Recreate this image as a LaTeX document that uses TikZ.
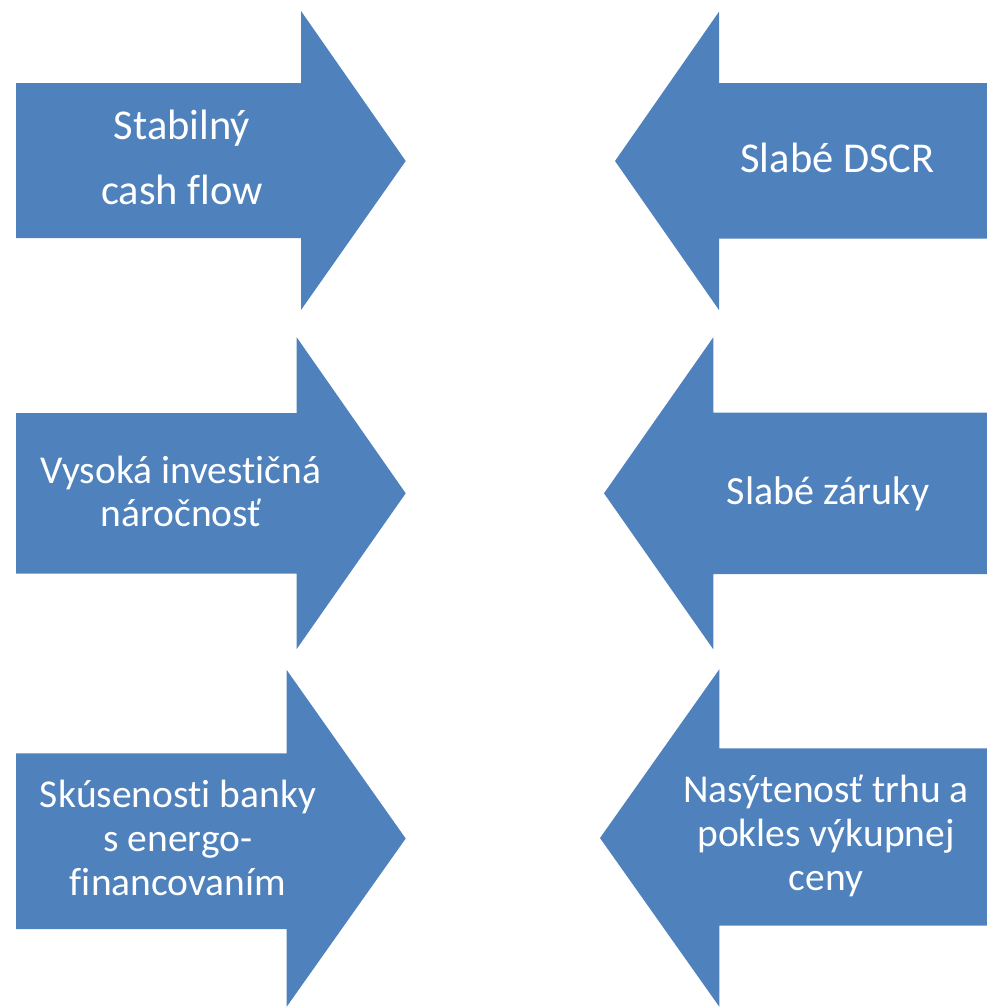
\documentclass[tikz,border=0pt]{standalone}
\usepackage{fontspec}
\setmainfont[Ligatures={NoCommon}]{Carlito}
\definecolor{arrowblue}{HTML}{4F81BD}
\begin{document}
\begin{tikzpicture}[x=1pt,y=-1pt,
  arrowshape/.style={fill=arrowblue,draw=none},
  label/.style={text=white,align=center,inner sep=0pt,anchor=base},
  bigtxt/.style={font=\fontsize{42.5}{65}\selectfont},
  midtxt/.style={font=\fontsize{42.5}{50}\selectfont},
  zartxt/.style={font=\fontsize{40}{50}\selectfont},
  smalltxt/.style={font=\fontsize{39.5}{43.6}\selectfont}]
\useasboundingbox (0,0) rectangle (987,1007);
% row 1
\fill[arrowshape] (16,83) -- (301,83) -- (301,11) -- (405.7,161) -- (301,310) -- (301,238) -- (16,238) -- cycle;
\fill[arrowshape] (987,83) -- (719,83) -- (719,11.7) -- (615,161) -- (719,310) -- (719,238.5) -- (987,238.5) -- cycle;
% row 2
\fill[arrowshape] (16,413) -- (296.7,413) -- (296.7,337.3) -- (405.7,493.3) -- (296.7,649) -- (296.7,573.7) -- (16,573.7) -- cycle;
\fill[arrowshape] (987,412.7) -- (713.3,412.7) -- (713.3,337.3) -- (604,493.3) -- (713.3,649.3) -- (713.3,574) -- (987,574) -- cycle;
% row 3
\fill[arrowshape] (16,753.3) -- (286.7,753.3) -- (286.7,670) -- (405.7,838.5) -- (286.7,1006.7) -- (286.7,929) -- (16,929) -- cycle;
\fill[arrowshape] (987,748.3) -- (719.3,748.3) -- (719.3,669.3) -- (600,838) -- (719.3,1006.7) -- (719.3,925.7) -- (987,925.7) -- cycle;
% labels (anchor = baseline of last line)
\node[label,bigtxt] (t1) at (182,204) {Stabilný\\cash flow};
\node[label,midtxt] (t2) at (837.5,172.7) {Slabé DSCR};
\node[label,smalltxt] (t3) at (181,526.7) {Vysoká investičná\\náročnosť};
\node[label,zartxt] (t4) at (828,504.3) {Slabé záruky};
\node[label,smalltxt] (t5) at (178,895) {Skúsenosti banky\\s energo-\\financovaním};
\node[label,smalltxt] (t6) at (826,890) {Nasýtenosť trhu a\\pokles výkupnej\\ceny};
\end{tikzpicture}
\end{document}
